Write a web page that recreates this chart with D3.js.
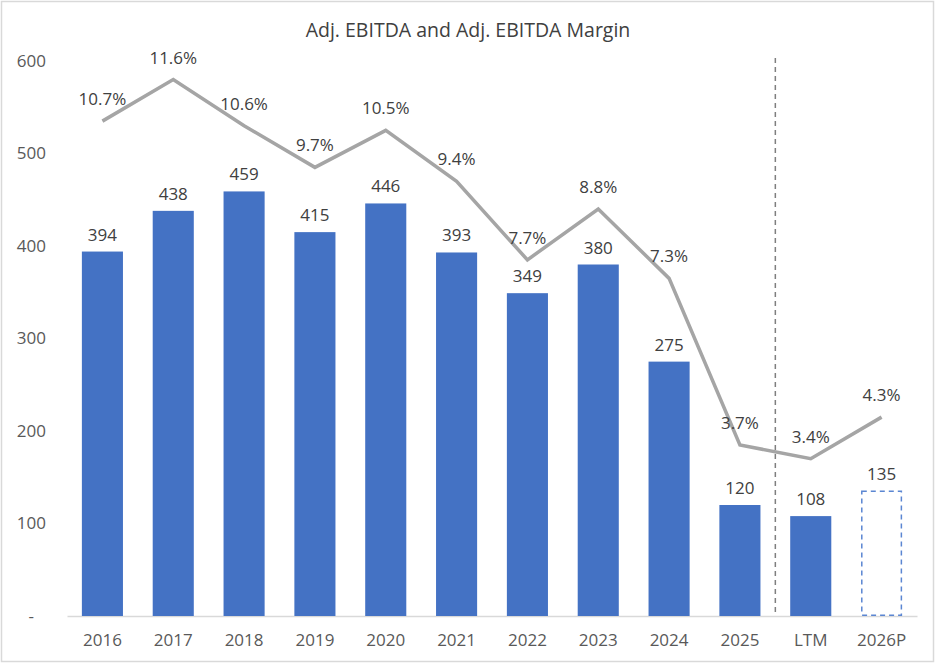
<!DOCTYPE html>
<html>
<head>
<meta charset="utf-8">
<script src="https://cdn.jsdelivr.net/npm/d3@7"></script>
<style>
  body { margin: 0; background: #fff; }
  text { font-family: "Open Sans", sans-serif; }
</style>
</head>
<body>
<div id="chart"></div>
<script>
// chart data
let categories = ["2016", "2017", "2018", "2019", "2020", "2021", "2022", "2023", "2024", "2025", "LTM", "2026P"];
let ebitda = [394, 438, 459, 415, 446, 393, 349, 380, 275, 120, 108, 135];
let margin = [10.7, 11.6, 10.6, 9.7, 10.5, 9.4, 7.7, 8.8, 7.3, 3.7, 3.4, 4.3];
let projected = ["2026P"];
let yTicks = [0, 100, 200, 300, 400, 500, 600];

// dimensions
let W = 936, H = 664;
let plot = {left: 67, right: 917, top: 61, bottom: 616};

let svg = d3.select("#chart")
  .append("svg")
    .attr("width", W)
    .attr("height", H);

// outer border
svg.append("rect")
  .attr("x", 1.5).attr("y", 1.5)
  .attr("width", W - 4).attr("height", H - 4)
  .attr("fill", "#fff")
  .attr("stroke", "#d9d9d9")
  .attr("stroke-width", 1.5);

// title
svg.append("text")
  .attr("x", 468).attr("y", 37)
  .attr("text-anchor", "middle")
  .attr("fill", "#404040")
  .style("font-size", "19.5px")
  .text("Adj. EBITDA and Adj. EBITDA Margin");

let x = d3.scaleBand()
  .domain(categories)
  .range([plot.left, plot.right])
  .paddingInner(0.42)
  .paddingOuter(0.21);

let y = d3.scaleLinear()
  .domain([0, 600])
  .range([plot.bottom, plot.top]);

// hidden secondary axis for the margin line
let y2 = d3.scaleLinear()
  .domain([0, 12])
  .range([plot.bottom, plot.top]);

// Y axis (labels only)
let yAxis = svg.append("g")
  .attr("transform", "translate(" + (plot.left - 21) + ",0)")
  .call(d3.axisLeft(y).tickValues(yTicks).tickSize(0)
    .tickFormat(function(d) { return d === 0 ? "-" : d; }));
yAxis.select(".domain").remove();
yAxis.selectAll("text")
  .attr("fill", "#595959")
  .style("font-size", "17px")
  .attr("x", 0)
  .attr("dx", function(d) { return d === 0 ? "-12px" : "0"; });

// X axis
let xAxis = svg.append("g")
  .attr("transform", "translate(0," + plot.bottom + ")")
  .call(d3.axisBottom(x).tickSize(0));
xAxis.select(".domain")
  .attr("stroke", "#d9d9d9")
  .attr("stroke-width", 1.5);
xAxis.selectAll("text")
  .attr("fill", "#595959")
  .attr("dy", "1.6em")
  .style("font-size", "17px");

// divider between actuals and LTM
let divX = (x("2025") + x.bandwidth() + x("LTM")) / 2;
svg.append("line")
  .attr("x1", divX).attr("x2", divX)
  .attr("y1", 58).attr("y2", plot.bottom)
  .attr("stroke", "#7f7f7f")
  .attr("stroke-width", 1.5)
  .attr("stroke-dasharray", "5,4");

let rows = categories.map(function(c, i) {
  return {cat: c, value: ebitda[i], margin: margin[i], proj: projected.indexOf(c) >= 0};
});

// bars
svg.append("g")
  .selectAll("rect")
  .data(rows)
  .enter().append("rect")
    .attr("x", function(d) { return d.proj ? x(d.cat) + 0.75 : x(d.cat); })
    .attr("y", function(d) { return y(d.value); })
    .attr("width", function(d) { return d.proj ? x.bandwidth() - 1.5 : x.bandwidth(); })
    .attr("height", function(d) { return plot.bottom - y(d.value) - (d.proj ? 0.75 : 0); })
    .attr("fill", function(d) { return d.proj ? "#fff" : "#4472c4"; })
    .attr("stroke", function(d) { return d.proj ? "#5b86d2" : "none"; })
    .attr("stroke-width", 1.5)
    .attr("stroke-dasharray", function(d) { return d.proj ? "5,4" : null; });

// bar labels
svg.append("g")
  .selectAll("text")
  .data(rows)
  .enter().append("text")
    .attr("x", function(d) { return x(d.cat) + x.bandwidth() / 2; })
    .attr("y", function(d) { return y(d.value) - 11; })
    .attr("text-anchor", "middle")
    .attr("fill", "#404040")
    .style("font-size", "17px")
    .text(function(d) { return d.value; });

// margin line
let line = d3.line()
  .x(function(d) { return x(d.cat) + x.bandwidth() / 2; })
  .y(function(d) { return y2(d.margin); });

svg.append("path")
  .datum(rows)
  .attr("d", line)
  .attr("fill", "none")
  .attr("stroke", "#a5a5a5")
  .attr("stroke-width", 3.5)
  .attr("stroke-linejoin", "miter");

// margin labels
svg.append("g")
  .selectAll("text")
  .data(rows)
  .enter().append("text")
    .attr("x", function(d) { return x(d.cat) + x.bandwidth() / 2; })
    .attr("y", function(d) { return y2(d.margin) - 16; })
    .attr("text-anchor", "middle")
    .attr("fill", "#404040")
    .style("font-size", "17px")
    .text(function(d) { return d.margin.toFixed(1) + "%"; });
</script>
</body>
</html>
